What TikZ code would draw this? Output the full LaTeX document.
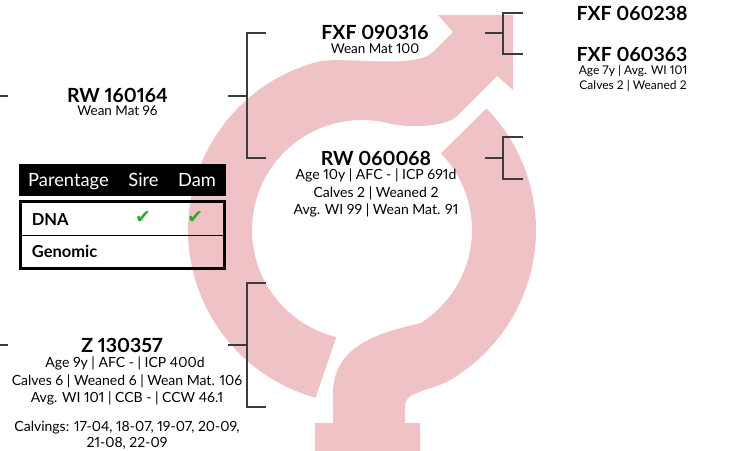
\documentclass[tikz,border=0pt]{standalone}
\usepackage{fontspec}
\setmainfont{Lato}[Numbers=Proportional]
\newfontfamily\symfont{DejaVu Sans}
\definecolor{ringpink}{RGB}{239,195,197}
\definecolor{okgreen}{RGB}{46,170,46}
\definecolor{brk}{RGB}{60,60,60}
\tikzset{
  ttl/.style={font=\fontsize{19.5}{22}\selectfont\bfseries, anchor=base, inner sep=0pt},
  wean/.style={font=\fontsize{13.5}{16}\selectfont, anchor=base, inner sep=0pt},
  sub/.style={font=\fontsize{14}{16}\selectfont, anchor=base, inner sep=0pt},
  small/.style={font=\fontsize{12}{14}\selectfont, anchor=base, inner sep=0pt},
  hdrtxt/.style={font=\fontsize{18.3}{20}\selectfont, text=white, anchor=base, inner sep=0pt},
  rowtxt/.style={font=\fontsize{16.5}{19}\selectfont\bfseries, anchor=base west, inner sep=0pt},
  tick/.style={font=\symfont\fontsize{19}{22}\selectfont, text=okgreen, inner sep=0pt},
  bracket/.style={draw=brk, line width=1.3pt},
}
\begin{document}
\begin{tikzpicture}[x=1pt,y=1pt]
\useasboundingbox (0,0) rectangle (755,-450);
\clip (0,0) rectangle (755,-450);
\coordinate (C) at (362,-230);
% left half of ring with arrow
\fill[ringpink] ([shift={(254.5:174)}]C) arc[start angle=254.5, end angle=105, radius=174]
  .. controls (341,-55.5) and (415,-70) .. (433,-52) -- (453,-32) -- (438,-15) -- (513,-15)
  -- (513,-90) -- (497,-76) -- (457,-116)
  .. controls (445,-128) and (405,-127.5) .. ([shift={(75.3:110)}]C)
  arc[start angle=75.3, end angle=256.5, radius=110] -- cycle;
% right half of ring with stem and cross
\fill[ringpink] ([shift={(44.3:174)}]C) arc[start angle=44.3, end angle=-60, radius=174]
  .. controls (433,-389.7) and (405,-392) .. (405,-405) -- (405,-423) -- (420,-423)
  -- (420,-452) -- (315,-452) -- (315,-423) -- (333,-423) -- (333,-393)
  .. controls (333,-342) and (388,-331) .. ([shift={(-57.8:110)}]C)
  arc[start angle=-57.8, end angle=44.2, radius=110] -- cycle;

% brackets
\coordinate (l1) at (0,-96); \coordinate (l1e) at (8,-96);
\coordinate (l2) at (0,-345); \coordinate (l2e) at (8,-345);
\draw[bracket] (l1) -- (l1e);
\draw[bracket] (l2) -- (l2e);
\coordinate (a1) at (266,-33); \coordinate (a2) at (247,-33);
\coordinate (a3) at (247,-158); \coordinate (a4) at (266,-158);
\coordinate (at) at (228,-96); \coordinate (am) at (247,-96);
\draw[bracket] (a1) -- (a2) -- (a3) -- (a4);
\draw[bracket] (at) -- (am);
\coordinate (b1) at (266,-283); \coordinate (b2) at (247,-283);
\coordinate (b3) at (247,-407); \coordinate (b4) at (266,-407);
\coordinate (bt) at (228,-345); \coordinate (bm) at (247,-345);
\draw[bracket] (b1) -- (b2) -- (b3) -- (b4);
\draw[bracket] (bt) -- (bm);
\coordinate (c1) at (523,-13); \coordinate (c2) at (503,-13);
\coordinate (c3) at (503,-54); \coordinate (c4) at (523,-54);
\coordinate (ct) at (485,-33); \coordinate (cm) at (503,-33);
\draw[bracket] (c1) -- (c2) -- (c3) -- (c4);
\draw[bracket] (ct) -- (cm);
\coordinate (d1) at (523,-137); \coordinate (d2) at (503,-137);
\coordinate (d3) at (503,-179); \coordinate (d4) at (523,-179);
\coordinate (dt) at (485,-158); \coordinate (dm) at (503,-158);
\draw[bracket] (d1) -- (d2) -- (d3) -- (d4);
\draw[bracket] (dt) -- (dm);

% texts
\node[ttl] (rw1) at (117.5,-102.2) {RW 160164};
\node[wean] (rw1s) at (117.5,-115.5) {Wean Mat 96};
\node[ttl] (fxf1) at (375,-39.8) {FXF 090316};
\node[wean] (fxf1s) at (375,-53.4) {Wean Mat 100};
\node[ttl] (fxf2) at (632,-20) {FXF 060238};
\node[ttl] (fxf3) at (632,-61.2) {FXF 060363};
\node[small] (fxf3a) at (633,-74.5) {Age 7y | Avg. WI 101};
\node[small] (fxf3b) at (633,-89.5) {Calves 2 | Weaned 2};
\node[ttl] (rw2) at (376,-165.2) {RW 060068};
\node[sub] (rw2a) at (376,-179) {Age 10y | AFC - | ICP 691d};
\node[sub] (rw2b) at (376,-197) {Calves 2 | Weaned 2};
\node[sub] (rw2c) at (376,-214.5) {Avg. WI 99 | Wean Mat. 91};
\node[ttl] (z1) at (122,-352.2) {Z 130357};
\node[sub] (z1a) at (125,-367) {Age 9y | AFC - | ICP 400d};
\node[sub] (z1b) at (127,-385) {Calves 6 | Weaned 6 | Wean Mat. 106};
\node[sub] (z1c) at (127,-402.7) {Avg. WI 101 | CCB - | CCW 46.1};
\node[sub] (z1d) at (127,-431) {Calvings: 17-04, 18-07, 19-07, 20-09,};
\node[sub] (z1e) at (127,-447) {21-08, 22-09};

% parentage table
\fill[black] (19,-164) rectangle (226,-196);
\node[hdrtxt, anchor=base west] (hp) at (28,-186) {Parentage};
\node[hdrtxt] (hs) at (143.5,-186) {Sire};
\node[hdrtxt] (hd) at (197,-186) {Dam};
\draw[line width=3pt] (20.5,-201.3) rectangle (224.3,-268.3);
\coordinate (dv1) at (20.5,-235.8); \coordinate (dv2) at (224.3,-235.8);
\draw[line width=1.3pt] (dv1) -- (dv2);
\node[rowtxt] (dna) at (31.7,-225.5) {DNA};
\node[rowtxt] (gen) at (31.7,-257.3) {Genomic};
\node[tick] (t1) at (143,-217.5) {✔};
\node[tick] (t2) at (195.3,-217.5) {✔};
\end{tikzpicture}
\end{document}
